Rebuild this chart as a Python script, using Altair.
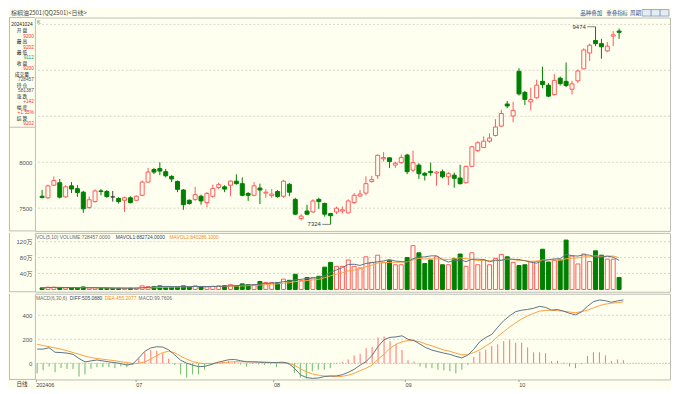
import altair as alt
import pandas as pd

# ---------------- data ----------------
idx = list(range(1, 100))
opens = [7630, 7613, 7750, 7777, 7623, 7743, 7712, 7674, 7507, 7572,
         7688, 7681, 7623, 7606, 7586, 7613, 7586, 7640, 7784, 7921,
         7931, 7897, 7846, 7791, 7698, 7586, 7596, 7630, 7561, 7630,
         7726, 7732, 7750, 7794, 7767, 7661, 7640, 7719, 7664, 7637,
         7681, 7630, 7760, 7596, 7387, 7469, 7459, 7596, 7551, 7442,
         7459, 7469, 7449, 7562, 7633, 7664, 7791, 7853, 8037, 8048,
         7969, 7996, 8078, 7914, 7969, 7880, 7901, 7883, 7897, 7842,
         7859, 7828, 7777, 7955, 8126, 8161, 8229, 8291, 8393, 8633,
         8503, 8989, 8760, 8657, 8701, 8880, 8838, 8736, 8914, 8880,
         8794, 8886, 9016, 9188, 9324, 9290, 9211, 9372, 9427]
highs = [7698, 7756, 7846, 7818, 7750, 7784, 7750, 7688, 7627, 7705,
         7708, 7698, 7688, 7620, 7627, 7630, 7640, 7801, 7938, 7938,
         8000, 7928, 7859, 7801, 7708, 7596, 7732, 7647, 7674, 7756,
         7777, 7750, 7801, 7869, 7835, 7674, 7784, 7767, 7708, 7708,
         7698, 7808, 7774, 7613, 7435, 7538, 7596, 7613, 7561, 7449,
         7517, 7517, 7596, 7664, 7698, 7846, 7852, 8085, 8110, 8051,
         8007, 8085, 8092, 8126, 7989, 7893, 7996, 7901, 7921, 7893,
         7887, 7972, 7962, 8178, 8229, 8280, 8315, 8469, 8571, 8667,
         8657, 9023, 8777, 8811, 8897, 9040, 8862, 8958, 8931, 9085,
         8886, 9010, 9239, 9290, 9474, 9342, 9307, 9427, 9454]
lows = [7606, 7603, 7740, 7606, 7613, 7664, 7623, 7449, 7493, 7561,
        7640, 7613, 7572, 7551, 7459, 7551, 7579, 7630, 7777, 7870,
        7859, 7835, 7784, 7674, 7483, 7538, 7579, 7538, 7510, 7613,
        7708, 7674, 7630, 7756, 7630, 7579, 7630, 7544, 7613, 7613,
        7613, 7613, 7630, 7425, 7366, 7425, 7449, 7493, 7408, 7324,
        7435, 7442, 7442, 7544, 7620, 7640, 7777, 7818, 8007, 7938,
        7938, 7982, 7870, 7893, 7818, 7801, 7853, 7743, 7825, 7750,
        7722, 7757, 7767, 7948, 8110, 8154, 8212, 8281, 8383, 8589,
        8434, 8725, 8623, 8564, 8691, 8804, 8708, 8725, 8835, 8818,
        8736, 8862, 9010, 9102, 9263, 9126, 9198, 9263, 9342]
closes = [7616, 7743, 7801, 7620, 7733, 7709, 7671, 7493, 7592, 7688,
          7681, 7627, 7623, 7572, 7613, 7561, 7630, 7784, 7893, 7893,
          7904, 7853, 7818, 7705, 7538, 7551, 7647, 7579, 7661, 7715,
          7756, 7708, 7794, 7767, 7640, 7640, 7743, 7698, 7674, 7654,
          7627, 7794, 7674, 7435, 7414, 7435, 7579, 7572, 7435, 7418,
          7500, 7483, 7579, 7640, 7654, 7767, 7811, 8075, 8051, 8007,
          7989, 8051, 7897, 7996, 7876, 7859, 7887, 7893, 7842, 7876,
          7825, 7767, 7955, 8168, 8212, 8229, 8263, 8383, 8530, 8612,
          8564, 8743, 8684, 8681, 8838, 8845, 8719, 8890, 8855, 8835,
          8852, 8992, 9222, 9273, 9290, 9256, 9263, 9386, 9413]
volumes = [4, 5.6, 5.6, 5, 4, 4, 4, 6.4, 4, 4,
           3.2, 3.2, 3.2, 3.2, 3.2, 3.2, 3.2, 9, 7, 7,
           9, 6.4, 6.4, 6.4, 9, 6.4, 9, 6.4, 6.4, 8,
           9, 9.6, 12, 9, 14, 12, 12, 20, 17.5, 17.5,
           17.5, 26, 23, 38, 22, 30, 30, 33, 56, 68,
           58, 58, 74, 58, 54, 82, 68, 86, 68, 72,
           62, 62, 80, 110, 92, 65, 74, 82, 62, 62,
           78, 89, 58, 92, 62, 74, 62, 78, 88, 82,
           68, 60, 62, 70, 70, 101, 69, 73, 74, 124,
           84, 64, 89, 70, 97, 86, 76, 76, 30]
diff_vals = [118, 118, 130, 92, 90, 85, 75, 40, 12, 20,
             28, 20, 12, 6, -2, -14, -4, 45, 100, 128,
             138, 135, 112, 70, 25, 2, -15, -28, -25, -12,
             6, 18, 30, 32, 22, 13, 12, 10, 8, 8,
             6, 10, 0, -40, -95, -118, -125, -122, -110, -105,
             -105, -95, -75, -50, -15, 15, 66, 140, 197, 216,
             220, 229, 200, 190, 160, 130, 110, 97, 85, 75,
             58, 45, 68, 118, 180, 215, 240, 300, 355, 395,
             430, 442, 448, 458, 474, 465, 442, 448, 434, 416,
             403, 428, 474, 513, 527, 521, 508, 519, 527]
dea_vals = [158, 148, 138, 128, 118, 105, 90, 76, 60, 48,
            40, 34, 28, 22, 14, 7, -2, 0, 12, 35,
            65, 90, 100, 88, 60, 35, 15, 3, -2, -2,
            2, 5, 10, 13, 13, 13, 13, 12, 10, 6,
            5, 3, 0, -15, -45, -70, -88, -98, -105, -108,
            -112, -108, -98, -84, -60, -40, -15, 35, 75, 125,
            158, 178, 190, 188, 179, 160, 145, 128, 111, 100,
            84, 71, 72, 90, 112, 145, 175, 224, 263, 303,
            337, 369, 395, 416, 434, 440, 442, 438, 434, 427,
            421, 430, 442, 461, 480, 492, 500, 505, 511]
macd_vals = [-84, -58, -26, -74, -40, -47, -47, -110, -92, -45,
             -32, -32, -32, -40, -26, -32, -13, 39, 92, 110,
             105, 84, 39, -15, -92, -118, -92, -92, -53, -13,
             5, 15, 20, 15, -10, -26, -5, -8, -13, -10,
             -32, 8, -10, -79, -118, -126, -66, -53, -53, -40,
             -5, 13, 32, 66, 79, 126, 137, 216, 224, 184,
             163, 111, 26, 13, -26, -40, -40, -53, -58, -66,
             -84, -53, -13, 53, 97, 113, 145, 158, 184, 197,
             171, 171, 132, 92, 92, 84, 18, 21, 5, -26,
             -40, -5, 61, 92, 92, 66, 21, 32, 26]

month_ticks = [0.75, 17.5, 40.5, 62.5, 81.5]
month_labels = ["202406", "07", "08", "09", "10"]
price_grid = [7500, 8000, 8500, 9000, 9500]
price_labels = [7500, 8000]
vol_grid = [40, 80, 120]
macd_grid = [200, 400]
macd_labels = [0, 200, 400]

title_text = "棕榈油2501(QQ2501)<日线>"
menu_items = ["品种叠加", "重叠指标", "周期"]
info_date = "20241024"
info_names = ["开  盘", "最  高", "最  低", "收  盘", "成交量", "持  仓", "涨  跌", "幅  度", "结  算"]
info_values = ["9200", "9202", "9112", "9200", "728457", "581387", "+142", "+1.55%", "9202"]
info_kinds = ["up", "up", "down", "up", "flat", "flat", "up", "up", "up"]
vol_title = ["VOL(5,10) VOLUME:728457.0000", "MAVOL1:882724.0000", "MAVOL2:840286.1000"]
macd_title = ["MACD(6,30,6)", "DIFF:505.0880", "DEA:455.2077", "MACD:99.7606"]

# ---------------- style ----------------
BG = "#fffff0"
RED = "#ff5a5a"
GREEN = "#008000"
DOJI = "#404040"
GRID = "#d6d6cc"
BORDER = "#bdbdb5"
LINE1 = "#5f7387"
LINE2 = "#ffa040"
HIST_R = "#ff7070"
HIST_G = "#66bb66"
FONT = "Liberation Sans, Noto Sans CJK SC, sans-serif"
CJK = "Noto Sans CJK SC, sans-serif"
W, HK, HV, HM = 637, 214, 59, 86
XD = [0.63, 106.8]

df = pd.DataFrame({"idx": idx, "open": opens, "high": highs, "low": lows,
                   "close": closes, "vol": volumes, "diff": diff_vals,
                   "dea": dea_vals, "macd": macd_vals})
df["dir"] = ["up" if c > o else ("down" if c < o else "flat") for o, c in zip(opens, closes)]
df["vdir"] = ["up" if c > o else "down" for o, c in zip(opens, closes)]
df["msign"] = ["pos" if m >= 0 else "neg" for m in macd_vals]

one = pd.DataFrame({"d": [0]})

dir_dom = ["up", "down", "flat"]
stroke_scale = alt.Scale(domain=dir_dom, range=[RED, GREEN, DOJI])
fill_scale = alt.Scale(domain=dir_dom, range=[BG, GREEN, DOJI])
xscale = alt.Scale(domain=XD, nice=False, zero=False)


def xenc(field="idx:Q", axis=None):
    return alt.X(field, scale=xscale, axis=axis)


def label(s, x, y, color, size=5.6, align="center", font=FONT):
    return alt.Chart(one).mark_text(text=s, align=align, baseline="middle", fontSize=size,
                                    font=font, color=color).encode(x=alt.value(x), y=alt.value(y))


def hline(x1, x2, y, color=BORDER):
    return alt.Chart(one).mark_rule(color=color, strokeWidth=1).encode(
        x=alt.value(x1), x2=alt.value(x2), y=alt.value(y))


def vline(x, y1, y2, color=BORDER):
    return alt.Chart(one).mark_rule(color=color, strokeWidth=1).encode(
        x=alt.value(x), y=alt.value(y1), y2=alt.value(y2))


def yaxis(values, expr=None):
    kw = dict(values=values, grid=False, domain=False, ticks=False, tickSize=0, labelPadding=3,
              labelFontSize=6, labelColor="#555", labelFont=FONT, title=None, format="d",
              labelOverlap=False, labelBound=False, labelFlush=False,
              minExtent=26, maxExtent=26)
    if expr:
        kw["labelExpr"] = expr
    return alt.Axis(**kw)


# ---------------- K panel ----------------
yk = alt.Scale(domain=[7253, 9574], nice=False, zero=False)
axK = yaxis(price_labels)

k_grid = alt.Chart(pd.DataFrame({"p": price_grid})).mark_rule(
    color=GRID, strokeDash=[2, 2], strokeWidth=1).encode(y=alt.Y("p:Q", scale=yk, axis=axK))
k_wick = alt.Chart(df).mark_rule(strokeWidth=1).encode(
    x=xenc(), y=alt.Y("low:Q", scale=yk, axis=axK), y2="high:Q",
    stroke=alt.Stroke("dir:N", scale=stroke_scale, legend=None))
k_body = alt.Chart(df).mark_bar(size=4, strokeWidth=1).encode(
    x=xenc(), y=alt.Y("open:Q", scale=yk, axis=axK), y2="close:Q",
    fill=alt.Fill("dir:N", scale=fill_scale, legend=None),
    stroke=alt.Stroke("dir:N", scale=stroke_scale, legend=None))

hi_i = highs.index(max(highs))
lo_i = lows.index(min(lows))
ann_df = pd.DataFrame({"idx": [idx[hi_i], idx[lo_i]], "p": [highs[hi_i], lows[lo_i]],
                       "label": [str(highs[hi_i]), str(lows[lo_i])]})
ann = alt.Chart(ann_df).transform_calculate(x0="datum.idx - 1.4")
ann_rule = ann.mark_rule(color="#666", strokeWidth=0.8).encode(
    x=xenc("x0:Q"), x2="idx:Q", y=alt.Y("p:Q", scale=yk, axis=axK))
ann_text = ann.mark_text(align="right", baseline="middle", dx=-1.5, fontSize=6,
                         font=FONT, color="#333").encode(
    x=xenc("x0:Q"), y=alt.Y("p:Q", scale=yk, axis=axK), text="label:N")

kind_color = {"up": "#ff2a2a", "down": "#2e9a2e", "flat": "#44546a"}
info_layers = [label(info_date, -13, 7.4, "#222", size=4.8)]
for i, (nm, val, kd) in enumerate(zip(info_names, info_values, info_kinds)):
    info_layers.append(label(nm, -13, 13.7 + 10.95 * i, "#222", size=4.8, font=CJK))
    info_layers.append(label(val, -1, 19.1 + 10.95 * i, kind_color[kd], size=4.8, align="right"))

header = [
    label(title_text, -24, -4.6, "#444", size=6, align="left", font=CJK),
    label(menu_items[0], 547, -4.6, "#1f4f9c", size=5.5, align="left", font=CJK),
    label(menu_items[1], 573, -4.6, "#1f4f9c", size=5.5, align="left", font=CJK),
    label(menu_items[2], 597, -4.6, "#1f4f9c", size=5.5, align="left", font=CJK),
    alt.Chart(one).mark_rect(fill="#e4ecf4", stroke="#7f9bb8", strokeWidth=0.8).encode(
        x=alt.value(609), x2=alt.value(636), y=alt.value(-8), y2=alt.value(-1.5)),
    vline(618, -8, -1.5, "#7f9bb8"),
    vline(627, -8, -1.5, "#7f9bb8"),
]

k_panel = alt.layer(
    k_grid, k_wick, k_body, ann_rule, ann_text,
    label("K", 2, 4, "#777", size=5.5, align="left"),
    hline(-26, 0, 0), hline(-26, 0, 110), hline(-26, 0, HK), vline(-25.5, 0, HK),
    *info_layers, *header,
).properties(width=W, height=HK)

# ---------------- VOL panel ----------------
yv = alt.Scale(domain=[-5.7, 142], nice=False, zero=False)
axV = yaxis(vol_grid, "datum.value + '万'")

v_grid = alt.Chart(pd.DataFrame({"v": vol_grid})).mark_rule(
    color=GRID, strokeDash=[2, 2], strokeWidth=1).encode(y=alt.Y("v:Q", scale=yv, axis=axV))
v_bar = alt.Chart(df).mark_bar(size=4, strokeWidth=1).encode(
    x=xenc(), y=alt.Y("vol:Q", scale=yv, axis=axV), y2=alt.Y2(datum=0),
    fill=alt.Fill("vdir:N", scale=fill_scale, legend=None),
    stroke=alt.Stroke("vdir:N", scale=stroke_scale, legend=None))
v_ma = alt.Chart(df).transform_window(
    ma5="mean(vol)", frame=[-4, 0], sort=[alt.SortField("idx")]
).transform_window(
    ma10="mean(vol)", frame=[-9, 0], sort=[alt.SortField("idx")])
v_ma5 = v_ma.mark_line(color=LINE1, strokeWidth=1).encode(
    x=xenc(), y=alt.Y("ma5:Q", scale=yv, axis=axV))
v_ma10 = v_ma.mark_line(color=LINE2, strokeWidth=1).encode(
    x=xenc(), y=alt.Y("ma10:Q", scale=yv, axis=axV))

v_panel = alt.layer(
    v_grid, v_bar, v_ma10, v_ma5,
    label(vol_title[0], 1, 5, "#6a6a6a", size=4.9, align="left"),
    label(vol_title[1], 81, 5, "#33475b", size=4.9, align="left"),
    label(vol_title[2], 135, 5, "#f08c2a", size=4.9, align="left"),
    hline(-26, 0, HV), vline(-25.5, 0, HV),
).properties(width=W, height=HV)

# ---------------- MACD panel ----------------
ym = alt.Scale(domain=[-134, 579], nice=False, zero=False)
axM = yaxis(macd_labels)
expr = "''"
for v, l in reversed(list(zip(month_ticks, month_labels))):
    expr = f"datum.value == {v} ? '{l}' : ({expr})"
axX = alt.Axis(values=month_ticks, labelExpr=expr, labelAlign="left", labelBaseline="top",
               labelFontSize=5.5, labelColor="#444", labelFont=FONT, labelPadding=1,
               tickSize=2, tickColor="#999", domain=False, grid=False, title=None,
               labelOverlap=False, labelFlush=False, labelBound=False)

m_grid = alt.Chart(pd.DataFrame({"m": macd_grid})).mark_rule(
    color=GRID, strokeDash=[2, 2], strokeWidth=1).encode(
    y=alt.Y("m:Q", scale=ym, axis=axM))
m_zero = alt.Chart(pd.DataFrame({"m": [0]})).mark_rule(
    color="#c8c8c0", strokeDash=[2, 1], strokeWidth=1).encode(
    y=alt.Y("m:Q", scale=ym, axis=axM))
m_hist = alt.Chart(df).mark_rule(strokeWidth=1).encode(
    x=xenc(axis=axX), y=alt.Y("macd:Q", scale=ym, axis=axM), y2=alt.Y2(datum=0),
    color=alt.Color("msign:N", scale=alt.Scale(domain=["pos", "neg"], range=[HIST_R, HIST_G]),
                    legend=None))
m_diff = alt.Chart(df).mark_line(color=LINE1, strokeWidth=1).encode(
    x=xenc(axis=axX), y=alt.Y("diff:Q", scale=ym, axis=axM))
m_dea = alt.Chart(df).mark_line(color=LINE2, strokeWidth=1).encode(
    x=xenc(axis=axX), y=alt.Y("dea:Q", scale=ym, axis=axM))

m_panel = alt.layer(
    m_grid, m_zero, m_hist, m_dea, m_diff,
    label(macd_title[0], 1, 5, "#6a6a6a", size=4.9, align="left"),
    label(macd_title[1], 35, 5, "#33475b", size=4.9, align="left"),
    label(macd_title[2], 70, 5, "#f08c2a", size=4.9, align="left"),
    label(macd_title[3], 104, 5, "#6a6a6a", size=4.9, align="left"),
    hline(-26, 0, HM), vline(-25.5, 0, HM),
    label("日线", -13, HM + 4.5, "#333", size=5.6, font=CJK),
).properties(width=W, height=HM)

chart = alt.vconcat(k_panel, v_panel, m_panel, spacing=0).properties(
    padding={"left": 0, "top": 0, "right": 0, "bottom": 0},
    background=BG,
).configure_view(stroke=BORDER, strokeWidth=1)

chart.save("out.html", embed_options={"renderer": "svg", "actions": False})
